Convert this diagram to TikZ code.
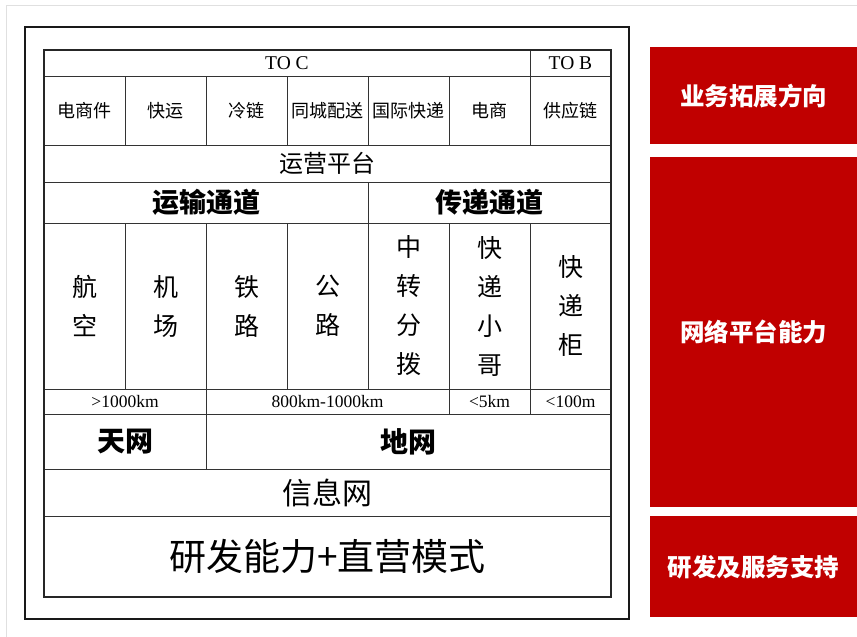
\documentclass[tikz,border=0pt]{standalone}
\usepackage{fontspec}
\setmainfont{Liberation Serif}
\newfontfamily\cjk{Noto Sans CJK SC}
\usetikzlibrary{positioning}

\begin{document}
\begin{tikzpicture}[x=1pt, y=-1pt,
    cell/.style={draw=black!80, line width=0.8pt, inner sep=0pt, outer sep=0pt, anchor=north west, align=center},
    catbox/.style={cell, minimum width=81pt, minimum height=69pt, font=\cjk\fontsize{18}{20}\selectfont},
    modebox/.style={cell, minimum width=81pt, minimum height=166pt, font=\cjk\fontsize{25}{39}\selectfont},
    kmbox/.style={cell, minimum height=25pt, font=\fontsize{17.5}{19}\selectfont},
    sidebox/.style={fill=sidered, text=white, minimum width=207pt, inner sep=0pt, anchor=north west, font=\cjk\bfseries\fontsize{24.5}{26}\selectfont}
]

    % Define colors
    \definecolor{sidered}{RGB}{192, 0, 0}
    \useasboundingbox (0,0) rectangle (857,637);

    % Page edge and outer frame
    \draw[black!12, line width=0.8pt] (6,637) -- (6,5) -- (857,5);
    \draw[black!90, line width=1.4pt] (25,27) rectangle (629,619);

    % Customer types
    \node[cell, minimum width=486pt, minimum height=26pt, font=\fontsize{19.5}{21}\selectfont] (toc) at (44,50) {TO C};
    \node[cell, minimum width=81pt, minimum height=26pt, font=\fontsize{19.5}{21}\selectfont, right=0pt of toc] (tob) {TO B};

    % Business lines
    \foreach \i/\txt in {1/电商件,2/快运,3/冷链,4/同城配送,5/国际快递,6/电商,7/供应链} {
        \ifnum\i=1
            \node[catbox] (cat1) at (44,76) {\txt};
        \else
            \pgfmathtruncatemacro{\prev}{\i-1}
            \node[catbox, right=0pt of cat\prev] (cat\i) {\txt};
        \fi
    }

    % Operation platform
    \node[cell, minimum width=567pt, minimum height=37pt, font=\cjk\fontsize{24}{26}\selectfont] (ops) at (44,145) {运营平台};

    % Channels
    \node[cell, minimum width=324pt, minimum height=41pt, font=\cjk\bfseries\fontsize{27}{29}\selectfont] (trans) at (44,182) {运输通道};
    \node[cell, minimum width=243pt, minimum height=41pt, font=\cjk\bfseries\fontsize{27}{29}\selectfont, right=0pt of trans] (deliv) {传递通道};

    % Transport modes (vertical text)
    \foreach \i/\txt in {1/航\\空,2/机\\场,3/铁\\路,4/公\\路,5/中\\转\\分\\拨,6/快\\递\\小\\哥,7/快\\递\\柜} {
        \ifnum\i=1
            \node[modebox] (mode1) at (44,223) {\txt};
        \else
            \pgfmathtruncatemacro{\prev}{\i-1}
            \node[modebox, right=0pt of mode\prev] (mode\i) {\txt};
        \fi
    }

    % Distances
    \node[kmbox, minimum width=162pt] (km1) at (44,389) {>1000km};
    \node[kmbox, minimum width=243pt, right=0pt of km1] (km2) {800km-1000km};
    \node[kmbox, minimum width=81pt, right=0pt of km2] (km3) {<5km};
    \node[kmbox, minimum width=81pt, right=0pt of km3] (km4) {<100m};

    % Networks
    \node[cell, minimum width=162pt, minimum height=55pt, font=\cjk\bfseries\fontsize{28}{30}\selectfont] (sky) at (44,414) {天网};
    \node[cell, minimum width=405pt, minimum height=55pt, font=\cjk\bfseries\fontsize{28}{30}\selectfont, right=0pt of sky] (ground) {地网};
    \node[cell, minimum width=567pt, minimum height=47pt, font=\cjk\fontsize{30}{32}\selectfont] (info) at (44,469) {信息网};
    \node[cell, minimum width=567pt, minimum height=81pt, font=\cjk\fontsize{37}{39}\selectfont] (rnd) at (44,516) {研发能力+直营模式};

    % Table border
    \draw[black!85, line width=1.6pt] (toc.north west) rectangle (rnd.south east);

    % Side labels
    \node[sidebox, minimum height=97pt] (biz) at (650,47) {业务拓展方向};
    \node[sidebox, minimum height=350pt] (net) at (650,157) {网络平台能力};
    \node[sidebox, minimum height=101pt] (sup) at (650,516) {研发及服务支持};

\end{tikzpicture}
\end{document}
